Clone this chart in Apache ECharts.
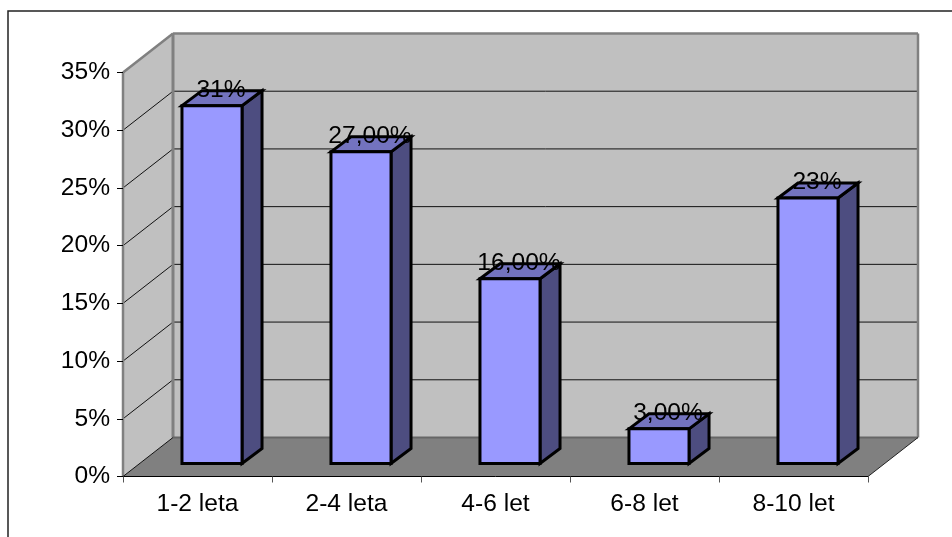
<!DOCTYPE html>
<html>
<head>
<meta charset="utf-8">
<style>html,body{margin:0;padding:0;background:#fff}#c{width:952px;height:537px}</style>
<script src="https://cdn.jsdelivr.net/npm/echarts@6/dist/echarts.min.js"></script>
</head>
<body>
<div id="c"></div>
<script>
const categories = ['1-2 leta', '2-4 leta', '4-6 let', '6-8 let', '8-10 let'];
const values = [31, 27, 16, 3, 23];
const valueLabels = ['31%', '27,00%', '16,00%', '3,00%', '23%'];
const yTicks = [0, 5, 10, 15, 20, 25, 30, 35];

// Oblique projection of the box: how far the back wall is shifted from the axis plane.
const WALL_DX = 50, WALL_DY = -39;
// Bars stand part-way into the floor and have their own, shallower depth.
const BAR_SHIFT_X = 14.5, BAR_SHIFT_Y = -13, BAR_DX = 20, BAR_DY = -15, BAR_RATIO = 0.403;
const FONT = '"Liberation Sans", Arial, sans-serif';
const FONT_SIZE = 24.6;

function poly(points, fill, stroke, lineWidth) {
  return { type: 'polygon', shape: { points }, style: { fill, stroke: stroke || 'none', lineWidth: lineWidth || 0, lineJoin: 'miter' } };
}
function line(x1, y1, x2, y2, stroke, lineWidth) {
  return { type: 'line', shape: { x1, y1, x2, y2 }, style: { stroke, lineWidth } };
}

// Walls, floor and gridlines of the box, drawn once per value tick.
function renderBox(params, api) {
  const value = api.value(0);
  const i = params.dataIndex;
  const x0 = params.coordSys.x, x1 = x0 + params.coordSys.width;
  const y = api.coord([0, value])[1];
  const yBase = api.coord([0, 0])[1], yTop = api.coord([0, yTicks[yTicks.length - 1]])[1];
  const children = [];
  if (i === 0) {
    children.push(
      poly([[x0, yTop], [x0 + WALL_DX, yTop + WALL_DY], [x0 + WALL_DX, yBase + WALL_DY], [x0, yBase]], '#c0c0c0'),
      poly([[x0 + WALL_DX, yTop + WALL_DY], [x1 + WALL_DX, yTop + WALL_DY], [x1 + WALL_DX, yBase + WALL_DY], [x0 + WALL_DX, yBase + WALL_DY]], '#c0c0c0'),
      poly([[x0, yBase], [x1, yBase], [x1 + WALL_DX, yBase + WALL_DY], [x0 + WALL_DX, yBase + WALL_DY]], '#808080')
    );
  }
  if (value > 0 && value < yTicks[yTicks.length - 1]) {
    children.push(
      line(x0, y, x0 + WALL_DX, y + WALL_DY, '#111', 1),
      line(x0 + WALL_DX, y + WALL_DY, x1 + WALL_DX, y + WALL_DY, '#111', 1)
    );
  }
  if (i === yTicks.length - 1) {
    const g = '#808080';
    children.push(
      line(x0, yTop, x0, yBase, g, 2.5),
      line(x0, yTop, x0 + WALL_DX, yTop + WALL_DY, g, 2.5),
      line(x0 + WALL_DX, yTop + WALL_DY, x1 + WALL_DX, yTop + WALL_DY, g, 2.5),
      line(x0 + WALL_DX, yTop + WALL_DY, x0 + WALL_DX, yBase + WALL_DY, g, 3),
      line(x1 + WALL_DX, yTop + WALL_DY, x1 + WALL_DX, yBase + WALL_DY, g, 2.5),
      line(x0 + WALL_DX, yBase + WALL_DY, x1 + WALL_DX, yBase + WALL_DY, '#666', 2),
      line(x0, yBase, x0 + WALL_DX, yBase + WALL_DY, '#111', 1),
      line(x1, yBase, x1 + WALL_DX, yBase + WALL_DY, '#222', 1)
    );
  }
  return { type: 'group', children };
}

// One prism per category: front face, top and right side.
function renderBar(params, api) {
  const idx = api.value(0), val = api.value(1);
  const base = api.coord([idx, 0]), top = api.coord([idx, val]);
  const w = api.size([1, 0])[0] * BAR_RATIO;
  const l = base[0] + BAR_SHIFT_X - w / 2, r = l + w;
  const b = base[1] + BAR_SHIFT_Y, t = top[1] + BAR_SHIFT_Y;
  const k = '#000', lw = 3;
  return {
    type: 'group',
    children: [
      poly([[r, t], [r + BAR_DX, t + BAR_DY], [r + BAR_DX, b + BAR_DY], [r, b]], '#4d4d80', k, lw),
      poly([[l, t], [l + BAR_DX, t + BAR_DY], [r + BAR_DX, t + BAR_DY], [r, t]], '#7373bf', k, lw),
      poly([[l, t], [r, t], [r, b], [l, b]], '#9999ff', k, lw),
      {
        type: 'text',
        style: {
          text: valueLabels[params.dataIndex],
          x: l + w / 2 + 9, y: t - 15.5,
          fill: '#000', font: FONT_SIZE + 'px ' + FONT,
          align: 'center', verticalAlign: 'middle'
        }
      }
    ]
  };
}

const chart = echarts.init(document.getElementById('c'), null, { renderer: 'canvas' });
chart.setOption({
  animation: false,
  backgroundColor: '#fff',
  graphic: [{
    type: 'rect', silent: true, z: -1,
    shape: { x: 8, y: 11, width: 960, height: 560 },
    style: { fill: 'none', stroke: '#222', lineWidth: 1.5 }
  }],
  grid: { left: 123, top: 72.5, width: 745, height: 404 },
  xAxis: {
    type: 'category',
    data: categories,
    z: 4,
    axisLine: { show: true, onZero: false, lineStyle: { color: '#000', width: 1 } },
    axisTick: { show: true, alignWithLabel: false, length: 6, lineStyle: { color: '#555', width: 1 } },
    axisLabel: { color: '#000', fontFamily: FONT, fontSize: FONT_SIZE, margin: 15, interval: 0 },
    splitLine: { show: false }
  },
  yAxis: {
    type: 'value',
    min: 0, max: 35, interval: 5,
    z: 4,
    axisLine: { show: false },
    axisTick: { show: true, length: 6, lineStyle: { color: '#000', width: 1 } },
    axisLabel: { color: '#000', fontFamily: FONT, fontSize: FONT_SIZE, margin: 13, padding: [2, 0, 0, 0], formatter: '{value}%' },
    splitLine: { show: false }
  },
  series: [
    {
      type: 'custom', coordinateSystem: 'cartesian2d', clip: false, silent: true, z: 1,
      renderItem: renderBox,
      encode: { y: 0 },
      data: yTicks.map(v => [v])
    },
    {
      type: 'custom', coordinateSystem: 'cartesian2d', clip: false, silent: true, z: 2,
      renderItem: renderBar,
      encode: { x: 0, y: 1 },
      data: values.map((v, i) => [i, v])
    }
  ]
});
</script>
</body>
</html>
